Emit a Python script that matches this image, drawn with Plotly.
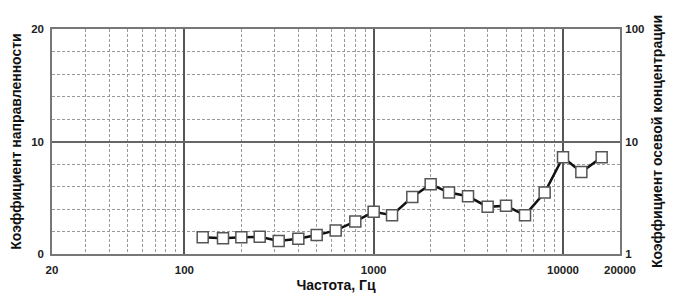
import plotly.graph_objects as go

freq = [125, 160, 200, 250, 315, 400, 500, 630, 800, 1000, 1250, 1600, 2000,
        2500, 3150, 4000, 5000, 6300, 8000, 10000, 12500, 16000]
directivity = [1.5, 1.4, 1.48, 1.53, 1.15, 1.36, 1.68, 2.1, 2.9, 3.75, 3.45,
               5.07, 6.2, 5.46, 5.13, 4.19, 4.28, 3.45, 5.46, 8.6, 7.28, 8.6]

x_ticks = [20, 100, 1000, 10000, 20000]
x_ticktext = ["20", "100", "1000", "10000", "20000"]
x_minor = [30, 40, 50, 60, 70, 80, 90, 200, 300, 400, 500, 600, 700, 800, 900,
           2000, 3000, 4000, 5000, 6000, 7000, 8000, 9000]
y_ticks = [0, 10, 20]
y_minor = [2, 4, 6, 8, 12, 14, 16, 18]
y2_ticks = [1, 10, 100]

font_family = "Liberation Sans, Arial, sans-serif"
title_font = dict(size=14, weight="bold", family=font_family, color="#111111")

fig = go.Figure()
fig.add_trace(go.Scatter(
    x=freq, y=directivity, mode="lines+markers",
    line=dict(color="#111111", width=2.5),
    marker=dict(symbol="square", size=11, color="white",
                line=dict(color="#555555", width=1.5)),
    showlegend=False, cliponaxis=False,
))
# empty trace so that the right-hand (log) axis is drawn
fig.add_trace(go.Scatter(x=[None], y=[None], yaxis="y2", showlegend=False,
                         hoverinfo="skip"))

fig.update_layout(
    width=666, height=289,
    margin=dict(l=44, r=54, t=21, b=43),
    paper_bgcolor="white", plot_bgcolor="white",
    font=dict(family=font_family, size=11.5, color="#222222", weight="bold"),
    xaxis=dict(
        type="log", range=[1.30103, 4.30103], automargin=False,
        tickvals=x_ticks, ticktext=x_ticktext,
        ticks="outside", ticklen=4, tickcolor="rgba(0,0,0,0)",
        showgrid=True, gridcolor="#555555", gridwidth=1.5,
        showline=True, linecolor="#777777", linewidth=1.5, mirror=True,
        zeroline=False,
        minor=dict(tickvals=x_minor, showgrid=True, gridcolor="#9a9a9a",
                   griddash="3px,2px", gridwidth=1, ticks=""),
        title=dict(text="Частота, Гц", standoff=6, font=title_font),
    ),
    yaxis=dict(
        range=[0, 20], tickvals=y_ticks, automargin=False,
        ticks="outside", ticklen=4, tickcolor="rgba(0,0,0,0)",
        showgrid=True, gridcolor="#666666", gridwidth=1.5,
        showline=True, linecolor="#777777", linewidth=1.5, mirror=True,
        zeroline=False,
        minor=dict(tickvals=y_minor, showgrid=True, gridcolor="#9a9a9a",
                   griddash="3px,2px", gridwidth=1, ticks=""),
        title=dict(text="Коэффициент направленности", standoff=7,
                   font=title_font),
    ),
    yaxis2=dict(
        type="log", range=[0, 2], tickvals=y2_ticks, automargin=False,
        overlaying="y", side="right", showgrid=False, zeroline=False,
        ticks="outside", ticklen=2, tickcolor="rgba(0,0,0,0)",
        title=dict(text="Коэффициент осевой концентрации", standoff=8,
                   font=title_font),
    ),
)

fig.write_html("out.html")
